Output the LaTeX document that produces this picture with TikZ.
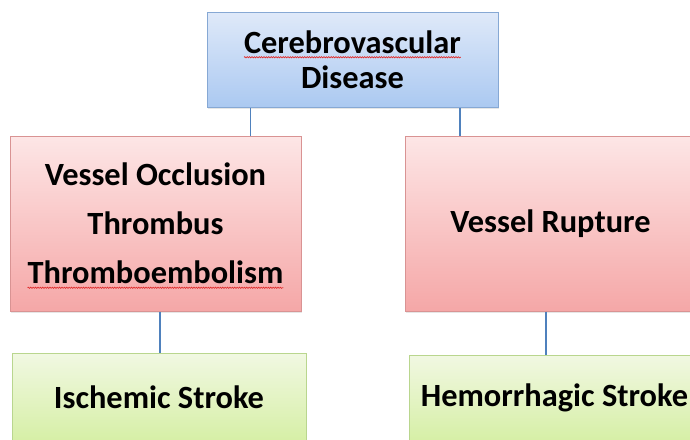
\documentclass[tikz,border=0pt]{standalone}
\usepackage{fontspec}
\setmainfont{Carlito}
\usetikzlibrary{positioning, shadows, decorations.pathmorphing}
\definecolor{cbluetop}{HTML}{DFE9F9}
\definecolor{cbluebot}{HTML}{ABC9F1}
\definecolor{cblueline}{HTML}{86A8D4}
\definecolor{credtop}{HTML}{FDE6E6}
\definecolor{credbot}{HTML}{F5A7A7}
\definecolor{credline}{HTML}{D99393}
\definecolor{cgreentop}{HTML}{F1F8E2}
\definecolor{cgreenbot}{HTML}{D6EFA6}
\definecolor{cgreenline}{HTML}{B9D68E}
\definecolor{clink}{HTML}{4F81BD}
\definecolor{cspell}{HTML}{E03030}
\newlength{\spellw}
\newcommand{\spellwave}[1]{\settowidth{\spellw}{#1}\rlap{\tikz[overlay, baseline=0pt]\draw[cspell, line width=0.7pt, decorate, decoration={snake, amplitude=0.6pt, segment length=2.4pt}] (0pt,-4pt) -- (\spellw,-4pt);}#1}
\tikzset{
  box/.style={draw=c#1line, top color=c#1top, bottom color=c#1bot, line width=1pt,
    align=center, inner sep=0pt, font=\fontsize{32.4}{35}\selectfont\bfseries,
    drop shadow={opacity=0.2, shadow xshift=1.2pt, shadow yshift=-1.5pt}},
  box/.default=blue,
  link/.style={draw=clink, line width=1.6pt},
}

\begin{document}
\begin{tikzpicture}[x=1pt, y=-1pt]
  \clip (0,0) rectangle (690,439);

  % top
  \node[box=blue, minimum width=291pt, minimum height=95pt] (dis) at (352.5,59.5)
    {\spellwave{Cerebrovascular}\\Disease};

  % causes
  \node[box=red, minimum width=291pt, minimum height=175pt] (occ) at (155.5,223.5)
    {Vessel Occlusion\\[14pt]Thrombus\\[14pt]\spellwave{Thromboembolism}};
  \node[box=red, minimum width=291pt, minimum height=175pt] (rup) at (550.5,223.5)
    {Vessel Rupture};
  \draw[link] ([xshift=-102pt]dis.south) -- ([xshift=-102pt]dis.south |- occ.north);
  \draw[link] ([xshift=107.5pt]dis.south) -- ([xshift=107.5pt]dis.south |- rup.north);

  % strokes
  \node[box=green, minimum width=294pt, minimum height=88pt] (isc) at (159,397)
    {Ischemic Stroke};
  \node[box=green, minimum width=291pt, minimum height=86pt] (hem) at (554.5,398)
    {Hemorrhagic Stroke};
  \draw[link] ([xshift=4.5pt]occ.south) -- ([xshift=4.5pt]occ.south |- isc.north);
  \draw[link] ([xshift=-4.5pt]rup.south) -- ([xshift=-4.5pt]rup.south |- hem.north);
\end{tikzpicture}
\end{document}
